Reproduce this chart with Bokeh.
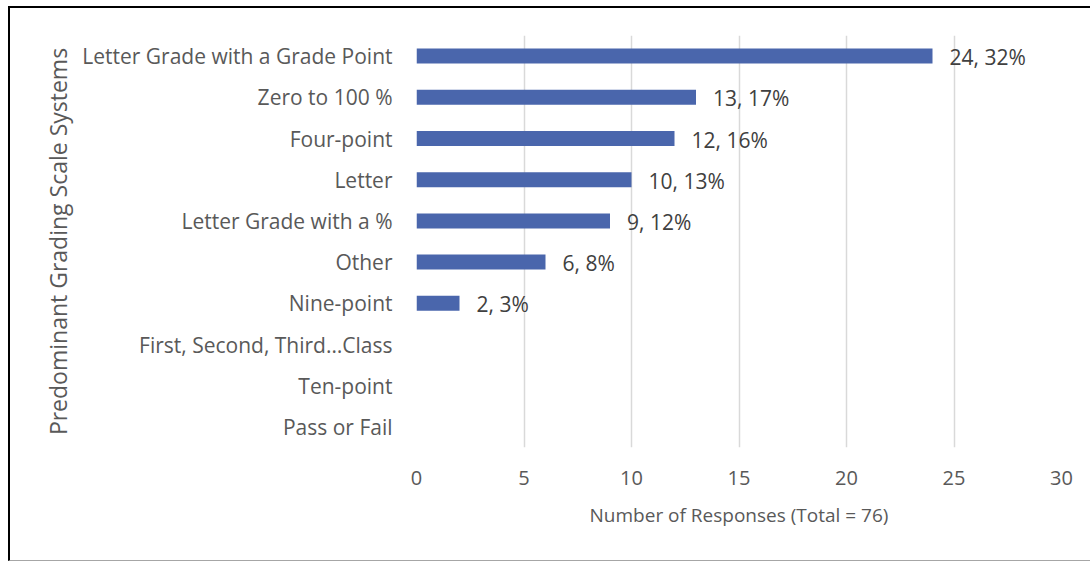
from bokeh.plotting import figure
from bokeh.models import ColumnDataSource, FactorRange, Range1d, SingleIntervalTicker
from bokeh.embed import file_html
from bokeh.resources import INLINE
from bokeh.core.properties import value

categories = [
    "Letter Grade with a Grade Point",
    "Zero to 100 %",
    "Four-point",
    "Letter",
    "Letter Grade with a %",
    "Other",
    "Nine-point",
    "First, Second, Third…Class",
    "Ten-point",
    "Pass or Fail",
]
counts = [24, 13, 12, 10, 9, 6, 2, 0, 0, 0]
percents = [32, 17, 16, 13, 12, 8, 3, 0, 0, 0]

labels = [f"{c}, {p}%" if c > 0 else "" for c, p in zip(counts, percents)]

source = ColumnDataSource(dict(cat=categories, count=counts, label=labels))

FONT = "Open Sans"
GREY = "#595959"

p = figure(
    width=1082, height=555,
    y_range=FactorRange(factors=list(reversed(categories))),
    x_range=Range1d(0, 30),
    output_backend="svg", toolbar_location=None,
    min_border_left=406, min_border_right=31,
    min_border_top=27, min_border_bottom=116,
)
p.styles = {
    "margin-left": "8px",
    "margin-top": "6px",
    "border-left": "2px solid black",
    "border-top": "2px solid black",
    "border-bottom": "1px solid #A6A6A6",
}
p.outline_line_color = None
p.background_fill_color = "white"
p.border_fill_color = "white"

p.hbar(y="cat", right="count", left=0, height=0.365, source=source,
       fill_color="#4A66AC", line_color=None)

p.text(x="count", y="cat", text="label", source=source,
       x_offset=17, y_offset=1, text_baseline="middle", text_align="left",
       text_font=value(FONT), text_font_size="21px", text_color="#404040")

p.xaxis.ticker = SingleIntervalTicker(interval=5)
p.xgrid.ticker = SingleIntervalTicker(interval=5)
p.xgrid.grid_line_color = "#D9D9D9"
p.xgrid.grid_line_width = 1.5
p.ygrid.grid_line_color = None

for ax in (p.xaxis[0], p.yaxis[0]):
    ax.axis_line_color = None
    ax.major_tick_line_color = None
    ax.minor_tick_line_color = None
    ax.major_label_text_font = FONT
    ax.major_label_text_color = GREY
    ax.axis_label_text_font = FONT
    ax.axis_label_text_color = GREY
    ax.axis_label_text_font_style = "normal"

p.xaxis.major_label_text_font_size = "20px"
p.yaxis.major_label_text_font_size = "21px"
p.xaxis.axis_label_text_font_size = "19px"
p.yaxis.axis_label_text_font_size = "23px"

p.xaxis.axis_label = "Number of Responses (Total = 76)"
p.yaxis.axis_label = "Predominant Grading Scale Systems"
p.xaxis.major_label_standoff = 17
p.xaxis.axis_label_standoff = 14
p.yaxis.major_label_standoff = 18
p.yaxis.axis_label_standoff = 5

open("out.html", "w").write(file_html(p, INLINE))
